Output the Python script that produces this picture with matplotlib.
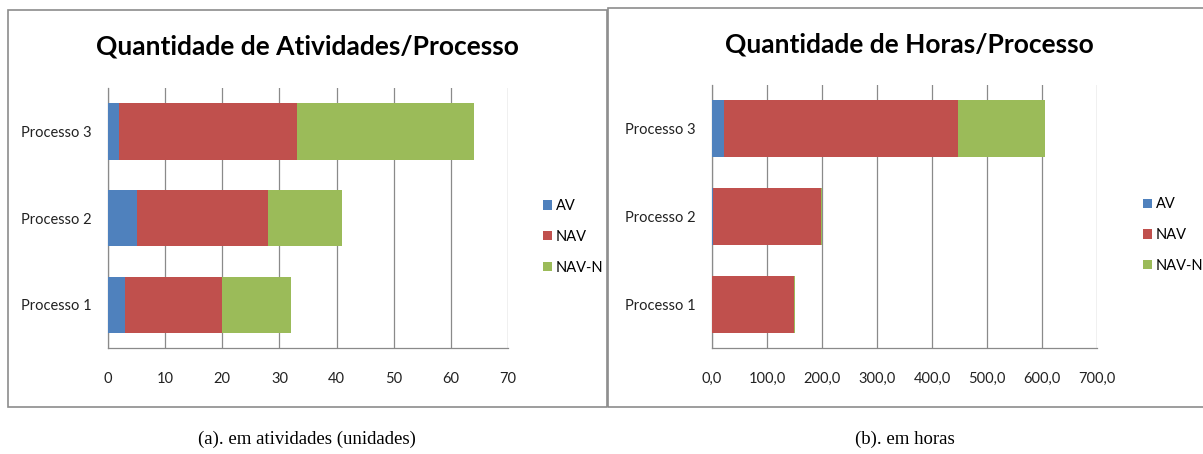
import matplotlib.pyplot as plt
from matplotlib.patches import Rectangle
from matplotlib.ticker import FuncFormatter
import numpy as np

plt.rcParams["font.family"] = ["Lato", "DejaVu Sans"]

W, H = 1203, 454

processes = ["Processo 1", "Processo 2", "Processo 3"]
series = ["AV", "NAV", "NAV-N"]
colors = ["#4F81BD", "#C0504D", "#9BBB59"]

# activities per process (units)
atividades_av = [3, 5, 2]
atividades_nav = [17, 23, 31]
atividades_navn = [12, 13, 31]

# hours per process
horas_av = [0.5, 1.5, 21]
horas_nav = [148, 197, 426]
horas_navn = [1.5, 1.5, 158]

fig = plt.figure(figsize=(W / 100, H / 100), dpi=100)


def px_axes(x0, y0, x1, y1):
    return fig.add_axes([x0 / W, 1 - y1 / H, (x1 - x0) / W, (y1 - y0) / H])


def frame(x0, y0, x1, y1):
    fig.patches.append(Rectangle((x0 / W, 1 - y1 / H), (x1 - x0) / W, (y1 - y0) / H,
                                 transform=fig.transFigure, fill=False,
                                 edgecolor="#8C8C8C", linewidth=1.2))


def stacked_panel(ax, av, nav, navn, xmax, step, fmt):
    y = np.arange(len(processes))
    left = np.zeros(len(processes))
    for vals, c, name in zip([av, nav, navn], colors, series):
        ax.barh(y, vals, left=left, height=0.65, color=c, label=name, zorder=3)
        left += np.array(vals)
    ax.set_xlim(0, xmax)
    ax.set_ylim(-0.5, 2.5)
    ax.set_xticks(np.arange(0, xmax + step, step))
    ax.xaxis.set_major_formatter(FuncFormatter(fmt))
    ax.set_yticks(y)
    ax.set_yticklabels(processes)
    ax.grid(axis="x", color="#8A8A8A", linewidth=0.9, zorder=0)
    for s in ["top", "right"]:
        ax.spines[s].set_visible(False)
    for s in ["left", "bottom"]:
        ax.spines[s].set_color("#8A8A8A")
        ax.spines[s].set_linewidth(0.9)
    ax.tick_params(axis="x", length=0, pad=17, labelsize=10.5, colors="#222222")
    ax.tick_params(axis="y", length=0, pad=12, labelsize=10.5, colors="#222222")


frame(8, 10, 607, 407)
frame(608, 8, 1210, 407)

ax1 = px_axes(108, 88, 508, 348)
stacked_panel(ax1, atividades_av, atividades_nav, atividades_navn, 70, 10,
              lambda v, p: f"{v:.0f}")
ax2 = px_axes(712, 85, 1097, 348)
stacked_panel(ax2, horas_av, horas_nav, horas_navn, 700, 100,
              lambda v, p: f"{v:.1f}".replace(".", ","))

for ax, lx in [(ax1, 537), (ax2, 1137)]:
    pos = ax.get_position()
    ax.legend(loc="upper left",
              bbox_to_anchor=((lx - pos.x0 * W) / (pos.width * W), 0.595),
              frameon=False, fontsize=10.5, handlelength=0.6, handleheight=0.6,
              handletextpad=0.3, labelspacing=1.15, borderaxespad=0)

fig.text(307 / W, 1 - 47 / H, "Quantidade de Atividades/Processo", ha="center",
         va="center", fontsize=19, fontweight="bold")
fig.text(909 / W, 1 - 45 / H, "Quantidade de Horas/Processo", ha="center",
         va="center", fontsize=19, fontweight="bold")

fig.text(307 / W, 1 - 439 / H, "(a). em atividades (unidades)", ha="center",
         va="center", fontsize=13.5, family="Liberation Serif")
fig.text(905 / W, 1 - 439 / H, "(b). em horas", ha="center",
         va="center", fontsize=13.5, family="Liberation Serif")

fig.savefig("out.png", dpi=100)
